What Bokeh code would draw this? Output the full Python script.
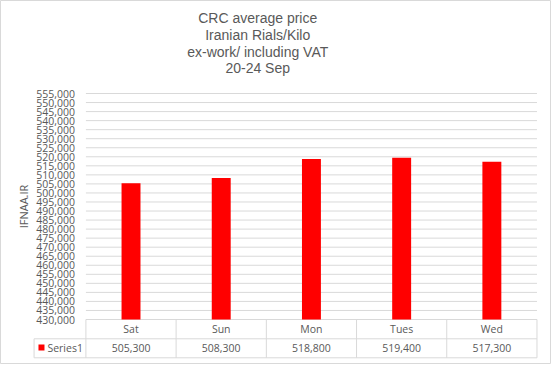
from bokeh.plotting import figure
from bokeh.models import Range1d, FixedTicker, NumeralTickFormatter
from bokeh.core.properties import value
from bokeh.embed import file_html
from bokeh.resources import INLINE

# ---- data ----
categories = ["Sat", "Sun", "Mon", "Tues", "Wed"]
prices = [505300, 508300, 518800, 519400, 517300]
series_name = "Series1"
y_ticks = list(range(430000, 555001, 5000))
y_min, y_max = 430000, 555000
title_lines = ["CRC average price", "Iranian Rials/Kilo", "ex-work/ including VAT", "20-24 Sep"]
y_label = "IFNAA.IR"

# ---- layout (reference pixels -> figure pixels) ----
W, H = 551, 364
SX = (W - 1) / 557.0
PL, PR = 87.5, 544.3      # plot area left/right (reference px)
PT, PB = 94.0, 320.0      # plot area top/bottom (reference px)
n = len(categories)

def LX(r):
    return (r - 1) * SX

k = (LX(PR) - LX(PL)) / n
upp = (y_max - y_min) / (PB - PT)

def X(r):
    return (LX(r) - LX(PL)) / k

def Y(r):
    return y_min + (PB - r) * upp

GRID = "#d9d9d9"
TXT = "#595959"
FONT = value("Open Sans")
FS = "10.5px"

p = figure(width=W, height=H, output_backend="svg", toolbar_location=None,
           x_range=Range1d(-LX(PL) / k, (W - LX(PL)) / k),
           y_range=Range1d(Y(1 + H), Y(1)),
           min_border=0, x_axis_type=None)
p.min_border_left = p.min_border_right = p.min_border_top = p.min_border_bottom = 0
p.xgrid.visible = False
p.ygrid.visible = False
p.outline_line_color = GRID
p.background_fill_color = "white"
p.border_fill_color = "white"

ax = p.yaxis[0]
ax.fixed_location = 0
ax.bounds = (y_min, y_max)
ax.ticker = FixedTicker(ticks=y_ticks)
ax.formatter = NumeralTickFormatter(format="0,0")
ax.axis_line_color = None
ax.major_tick_line_color = None
ax.minor_tick_line_color = None
ax.major_tick_out = 0
ax.major_tick_in = 0
ax.minor_tick_out = 0
ax.minor_tick_in = 0
ax.major_label_standoff = 11
ax.major_label_text_font = "Open Sans"
ax.major_label_text_font_size = FS
ax.major_label_text_color = TXT
ax.axis_label = y_label
ax.axis_label_text_font = "Open Sans"
ax.axis_label_text_font_size = "11px"
ax.axis_label_text_font_style = "normal"
ax.axis_label_text_color = TXT
ax.axis_label_standoff = 2

xs = [i + 0.5 for i in range(n)]

# gridlines
p.segment(x0=0, x1=n, y0=y_ticks, y1=y_ticks, line_color=GRID, line_width=1)

# bars
p.vbar(x=xs, width=0.21, bottom=y_min, top=prices, fill_color="#ff0000", line_color=None)

# data table
r1, r2 = Y(339.3), Y(358.3)
p.segment(x0=[X(35), X(35)], x1=[n, n], y0=[r1, r2], y1=[r1, r2], line_color=GRID)
p.segment(x0=list(range(n + 1)), x1=list(range(n + 1)), y0=[y_min] * (n + 1), y1=[r2] * (n + 1),
          line_color=GRID)
p.segment(x0=[X(35)], x1=[X(35)], y0=[r1], y1=[r2], line_color=GRID)

p.text(x=xs, y=[Y(329.8)] * n, text=categories, text_font=FONT, text_font_size=FS,
       text_color=TXT, text_align="center", text_baseline="middle")
p.text(x=xs, y=[Y(348.8)] * n, text=[f"{v:,}" for v in prices], text_font=FONT,
       text_font_size=FS, text_color=TXT, text_align="center", text_baseline="middle")

# legend key
p.rect(x=[X(42.5)], y=[Y(348)], width=6 / k, height=6 * upp, fill_color="#ff0000", line_color=None)
p.text(x=[X(48.5)], y=[Y(348.8)], text=[series_name], text_font=FONT, text_font_size=FS,
       text_color=TXT, text_align="left", text_baseline="middle")

# title
title_y = [18.5, 35.3, 52.0, 68.5]
p.text(x=[X(261.5)] * len(title_lines), y=[Y(v) for v in title_y], text=title_lines,
       text_font=value("Liberation Sans"), text_font_size="14px", text_color=TXT,
       text_align="center", text_baseline="middle")

open("out.html", "w").write(file_html(p, INLINE))
